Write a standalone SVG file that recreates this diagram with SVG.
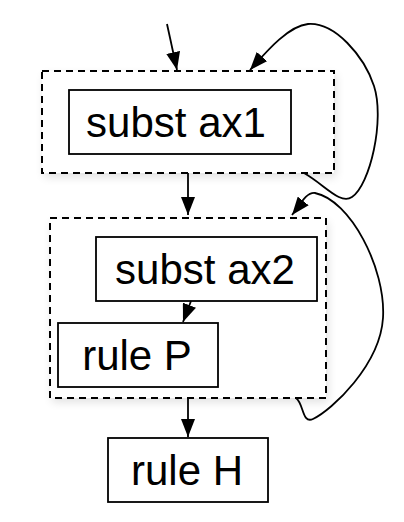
<svg xmlns="http://www.w3.org/2000/svg" width="404" height="522" viewBox="0 0 404 522">
<style>
.box{fill:#fff;stroke:#000;stroke-width:1.8}
.grp{fill:#fff;stroke:#000;stroke-width:2;stroke-dasharray:7,5}
.lbl{font-family:"Liberation Sans",Arial,sans-serif;font-size:42px;fill:#000;text-anchor:middle}
.edge{fill:none;stroke:#000;stroke-width:1.8}
</style>
<defs>
<filter id="sh" x="-20%" y="-20%" width="140%" height="140%">
<feGaussianBlur stdDeviation="5"/>
</filter>
<marker id="ah" markerUnits="userSpaceOnUse" markerWidth="19" markerHeight="14" refX="18" refY="7" orient="auto">
<path d="M0,0 L18,7 L0,14 z" fill="#000"/>
</marker>
</defs>
<rect width="404" height="522" fill="#fff"/>
<g id="group1">
<rect x="44" y="75" width="292" height="102" fill="#000" opacity="0.12" filter="url(#sh)"/>
<rect class="grp" x="42" y="71" width="292" height="102"/>
</g>
<g id="group2">
<rect x="52" y="222" width="276" height="180" fill="#000" opacity="0.12" filter="url(#sh)"/>
<rect class="grp" x="50" y="218" width="276" height="180"/>
</g>
<g id="n-subst-ax1">
<rect class="box" x="69" y="90" width="222" height="64"/>
<text class="lbl" x="176" y="137">subst ax1</text>
</g>
<g id="n-subst-ax2">
<rect class="box" x="96" y="237" width="221" height="64"/>
<text class="lbl" x="205" y="284">subst ax2</text>
</g>
<g id="n-rule-P">
<rect class="box" x="58" y="323" width="160" height="64"/>
<text class="lbl" x="137" y="370">rule P</text>
</g>
<g id="n-rule-H">
<rect class="box" x="108" y="438" width="160" height="64"/>
<text class="lbl" x="187" y="485">rule H</text>
</g>
<g id="connectors">
<path class="edge" d="M167,24 L177,70" marker-end="url(#ah)"/>
<path class="edge" d="M188,173 L188,215" marker-end="url(#ah)"/>
<path class="edge" d="M191,301 L183,322" marker-end="url(#ah)"/>
<path class="edge" d="M188,398 L188,437" marker-end="url(#ah)"/>
<path class="edge" d="M304,173 C325,185 340,205 352,197 C370,185 385,120 374,86 C364,56 335,22 308,24 C288,26 266,52 250,70" marker-end="url(#ah)"/>
<path class="edge" d="M296,398 C304,404 302,424 313,419 C332,410 380,365 383,318 C386,268 350,200 315,193 C306,192 300,205 292,215" marker-end="url(#ah)"/>
</g>
</svg>
